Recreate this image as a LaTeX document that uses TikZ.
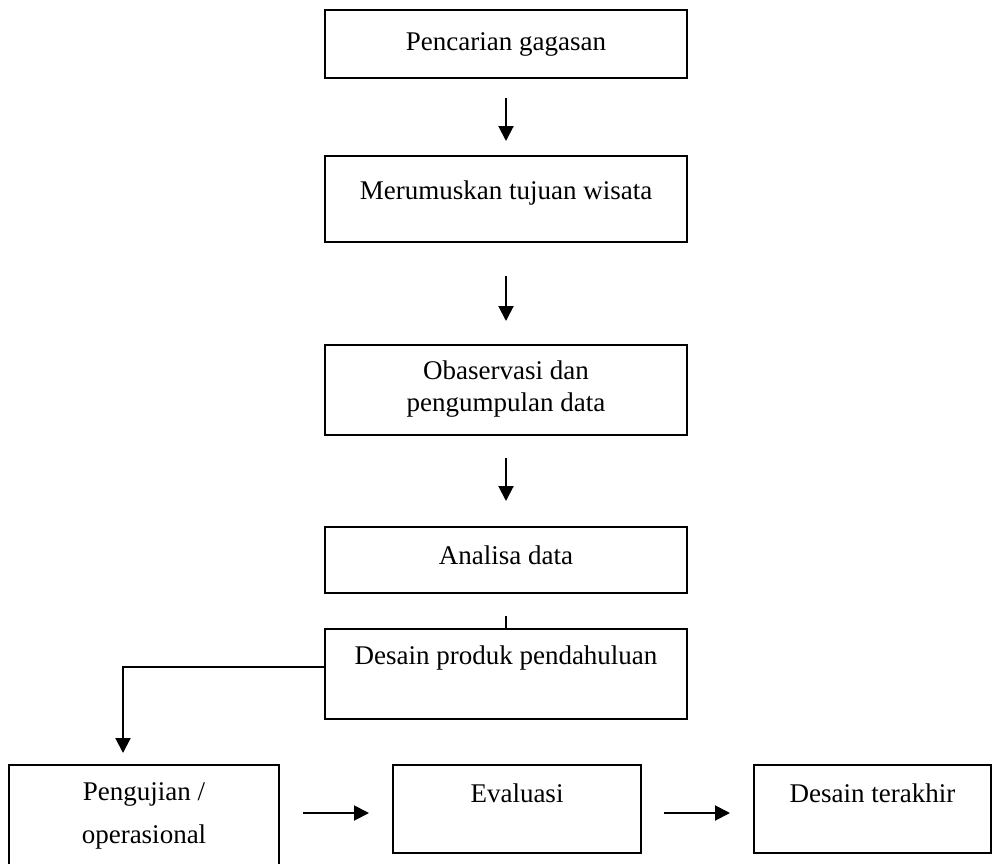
\documentclass[tikz,border=0pt]{standalone}
\usepackage{fontspec}
\setmainfont{Liberation Serif}
\usetikzlibrary{arrows.meta}
\begin{document}
\begin{tikzpicture}[x=1pt,y=-1pt,
  boxline/.style={draw=black, line width=2pt, inner sep=0pt},
  lbl/.style={font=\fontsize{27}{32}\selectfont, inner sep=0pt, align=center},
  conn/.style={line width=2pt, -{Triangle[width=15pt,length=15pt]}},
  plainln/.style={line width=2pt}]
\useasboundingbox (0,0) rectangle (993,863);
% boxes
\node[boxline, minimum width=362pt, minimum height=68pt] (b1) at (506,44) {};
\node[boxline, minimum width=362pt, minimum height=86pt] (b2) at (506,199) {};
\node[boxline, minimum width=362pt, minimum height=90pt] (b3) at (506,390) {};
\node[boxline, minimum width=362pt, minimum height=66pt] (b4) at (506,560) {};
\node[boxline, minimum width=362pt, minimum height=90pt] (b5) at (506,674) {};
\node[boxline, minimum width=270pt, minimum height=110pt] (b6) at (144,820) {};
\node[boxline, minimum width=248pt, minimum height=88pt] (b7) at (517,809) {};
\node[boxline, minimum width=237pt, minimum height=88pt] (b8) at (872.5,809) {};
% texts
\node[lbl] (t1) at (506,44) {Pencarian gagasan};
\node[lbl] (t2) at (506,193) {Merumuskan tujuan wisata};
\node[lbl] (t3) at (506,389) {Obaservasi dan\\pengumpulan data};
\node[lbl] (t4) at (506,555) {Analisa data};
\node[lbl] (t5) at (506,658) {Desain produk pendahuluan};
\node[lbl, font=\fontsize{27}{43}\selectfont] (t6) at (144,816) {Pengujian /\\operasional};
\node[lbl] (t7) at (517,793) {Evaluasi};
\node[lbl] (t8) at (872.5,793) {Desain terakhir};
% connectors
\draw[conn] ([yshift=-19pt]b1.south) -- ([yshift=14pt]b2.north);
\draw[conn] ([yshift=-33pt]b2.south) -- ([yshift=23pt]b3.north);
\draw[conn] ([yshift=-22pt]b3.south) -- ([yshift=25pt]b4.north);
\draw[plainln] ([yshift=-22pt]b4.south) -- (b5.north);
\coordinate (e1) at (123,753);
\draw[conn] ([yshift=7pt]b5.west) -| (e1);
\draw[conn] ([xshift=23pt,yshift=-4pt]b6.east |- b7.west) -- ([xshift=-23pt,yshift=-4pt]b7.west);
\draw[conn] ([xshift=22pt,yshift=-4pt]b7.east) -- ([xshift=-23pt,yshift=-4pt]b8.west);
\end{tikzpicture}
\end{document}
